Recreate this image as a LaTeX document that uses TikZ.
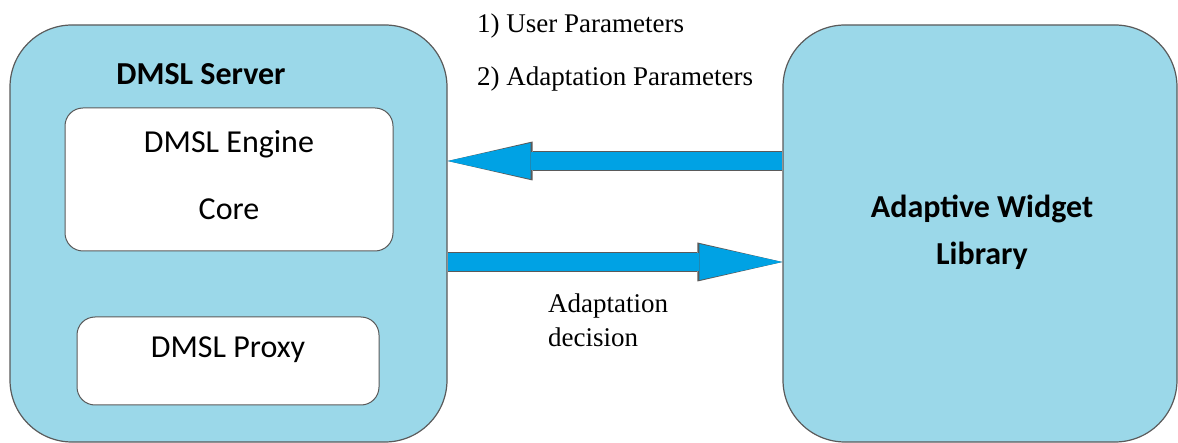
\documentclass[tikz,border=0pt]{standalone}
\usepackage{fontspec}
\setmainfont{Liberation Serif}
\newfontfamily\calibri{Carlito}
\usetikzlibrary{arrows.meta}
\definecolor{boxblue}{RGB}{155,216,233}
\definecolor{flowblue}{RGB}{0,162,228}
\definecolor{rim}{RGB}{90,90,90}

\begin{document}
\begin{tikzpicture}[x=1pt,y=-1pt,
outerbox/.style={draw=rim, line width=1.2pt, fill=boxblue, rounded corners=62pt, inner sep=0pt},
innerbox/.style={draw=rim, line width=1pt, fill=white, rounded corners=18pt, inner sep=0pt},
boxtext/.style={font=\calibri\fontsize{32}{38}\selectfont, inner sep=0pt, anchor=base},
boldtext/.style={boxtext, font=\calibri\bfseries\fontsize{32}{38}\selectfont},
note/.style={font=\fontsize{27}{34}\selectfont, anchor=base west, inner sep=0pt, align=left},
flow/.style={draw=flowblue, line width=18pt, -{Triangle[length=83pt,width=36pt,line width=0pt]},
  preaction={draw=rim, line width=20pt, -{Triangle[length=85pt,width=39pt,line width=0pt]}}}]
\useasboundingbox (0,0) rectangle (1178,443);
% the two main blocks
\node[outerbox, minimum width=437pt, minimum height=417pt] (srv) at (228.5,233.5) {};
\node[outerbox, minimum width=394pt, minimum height=417pt] (lib) at (980,233.5) {};
\node[boldtext] (srvname) at (201,85) {DMSL Server};
\node[boldtext, align=center] (libname) at (982,265) {Adaptive Widget\\[9pt]Library};
% inner parts of the server
\node[innerbox, minimum width=328pt, minimum height=143pt] (engine) at (229,179.5) {};
\node[boxtext] (enginename) at (229,153) {DMSL Engine};
\node[boxtext] (core) at (229,220) {Core};
\node[innerbox, minimum width=302pt, minimum height=88pt] (proxy) at (228,361) {};
\node[boxtext] (proxyname) at (228,358) {DMSL Proxy};
% flows between them
\draw[flow] ([yshift=72.5pt]lib.west) -- ([yshift=72.5pt]srv.east);
\draw[flow] ([yshift=-28.5pt]srv.east) -- ([yshift=-28.5pt]lib.west);
\node[note] (userpar) at (477,33) {1) User Parameters};
\node[note] (adaptpar) at (477,86) {2) Adaptation Parameters};
\node[note] (decision) at (548,347) {Adaptation\\decision};
\end{tikzpicture}
\end{document}
